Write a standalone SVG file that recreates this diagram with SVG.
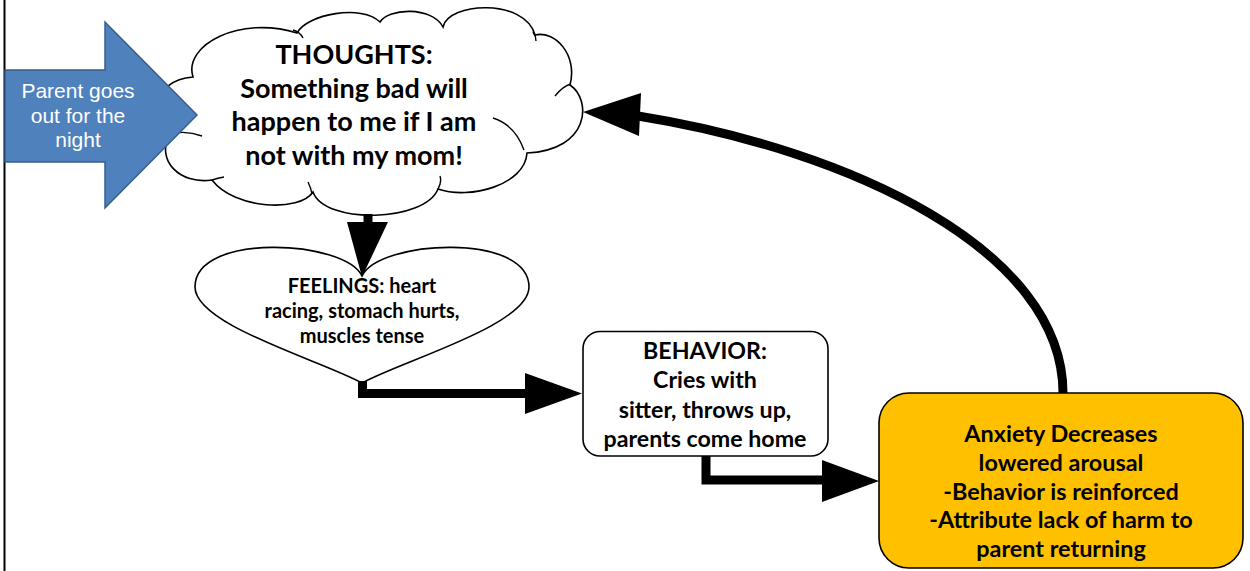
<svg xmlns="http://www.w3.org/2000/svg" width="1250" height="571" viewBox="0 0 1250 571">
  <style>
    .b { font-family: Lato, "Liberation Sans", sans-serif; font-weight: bold; fill: #000; text-anchor: middle; }
    .w { font-family: "Liberation Sans", Arial, sans-serif; fill: #fff; text-anchor: middle; font-size: 21px; }
    .shape { fill: #fff; stroke: #000; stroke-width: 1.6; }
    .inner { fill: none; stroke: #000; stroke-width: 1.4; }
    .wire { fill: none; stroke: #000; stroke-width: 9; }
    .head { fill: #000; }
  </style>

  <rect width="1250" height="571" fill="#fff"/>
  <!-- page edge on the left -->
  <line x1="4.5" y1="0" x2="4.5" y2="571" stroke="#000" stroke-width="2"/>

  <g id="thoughts">
    <path class="shape" d="M170,134 C148,125 150,80 193,77 C183,45 240,15 297,33 C307,14 362,4 380,22 C388,8 432,6 443,27 C448,2 525,-2 535,35 C555,30 578,55 570,85 C592,100 590,150 527,153 C525,185 470,200 438,189 C425,222 325,225 313,192 C300,212 235,210 212,180 C180,185 155,160 170,134 Z"/>
    <path class="inner" d="M170,134 Q186,130 202,136 M293,30 Q300,32 303,38 M533,32 Q536,36 536,41 M555,96 Q563,86 571,84 M493,118 Q515,125 524,150 M438,189 Q442,182 440,176 M312,194 Q311,188 308,182 M212,180 Q218,178 224,177"/>
    <text class="b" x="354" y="64" font-size="27">THOUGHTS:</text>
    <text class="b" x="354" y="98" font-size="27">Something bad will</text>
    <text class="b" x="354" y="131" font-size="27">happen to me if I am</text>
    <text class="b" x="354" y="165" font-size="27">not with my mom!</text>
  </g>

  <g id="trigger">
    <polygon points="5,70 105,70 105,22 197,115 105,208 105,162 5,162" fill="#4f81bd" stroke="#385d8a" stroke-width="1.5"/>
    <text class="w" x="78" y="98">Parent goes</text>
    <text class="w" x="78" y="123">out for the</text>
    <text class="w" x="78" y="147">night</text>
  </g>

  <g id="feelings">
    <path class="shape" d="M362,276 C345,240 195,232 195,287 C195,325 320,360 362,383 C404,360 529,325 529,287 C529,232 379,240 362,276 Z"/>
    <text class="b" x="362" y="293" font-size="20">FEELINGS: heart</text>
    <text class="b" x="362" y="318" font-size="20">racing, stomach hurts,</text>
    <text class="b" x="362" y="343" font-size="20">muscles tense</text>
  </g>

  <g id="behavior">
    <rect class="shape" x="583" y="331.5" width="245" height="124.5" rx="17"/>
    <text class="b" x="705" y="359" font-size="23.2">BEHAVIOR:</text>
    <text class="b" x="705" y="388" font-size="23.2">Cries with</text>
    <text class="b" x="705" y="418" font-size="23.2">sitter, throws up,</text>
    <text class="b" x="705" y="447" font-size="23.2">parents come home</text>
  </g>

  <g id="outcome">
    <rect x="879" y="393" width="364" height="175" rx="30" fill="#ffc000" stroke="#000" stroke-width="1.6"/>
    <text class="b" x="1061" y="442" font-size="23.4">Anxiety Decreases</text>
    <text class="b" x="1061" y="471" font-size="23.4">lowered arousal</text>
    <text class="b" x="1061" y="500" font-size="23.4">-Behavior is reinforced</text>
    <text class="b" x="1061" y="528" font-size="23.4">-Attribute lack of harm to</text>
    <text class="b" x="1061" y="557" font-size="23.4">parent returning</text>
  </g>

  <g id="connectors">
    <!-- thoughts to feelings -->
    <line class="wire" x1="368" y1="214" x2="368" y2="224" stroke-width="10"/>
    <polygon class="head" points="347,222 388,222 362,277"/>
    <!-- feelings to behavior -->
    <path class="wire" d="M362.5,381 V393.5 H528"/>
    <polygon class="head" points="525,373 582,393.5 525,414"/>
    <!-- behavior to outcome -->
    <path class="wire" d="M706,456 V480 H825"/>
    <polygon class="head" points="822,460 879,481 822,502"/>
    <!-- outcome back to thoughts -->
    <path class="wire" d="M1063,393 C1063,250 850,150 638,116"/>
    <polygon class="head" points="641,93 583,112 639,136"/>
  </g>
</svg>
